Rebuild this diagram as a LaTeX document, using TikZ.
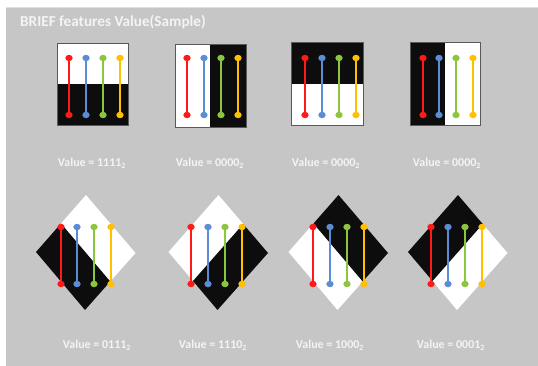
\documentclass[tikz,border=0pt]{standalone}
\usepackage{fontspec}
\setmainfont{Carlito}
\definecolor{panel}{HTML}{C6C6C6}
\definecolor{blk}{HTML}{0D0D0D}
\definecolor{cred}{HTML}{FF1A1A}
\definecolor{cblue}{HTML}{5B8DD6}
\definecolor{cgreen}{HTML}{8CC63F}
\definecolor{cyellow}{HTML}{FFC000}
\definecolor{txt}{HTML}{F4F4F4}
\tikzset{
  lbl/.style={text=txt, font=\bfseries\fontsize{12}{14}\selectfont, inner sep=0pt},
  ttl/.style={text=txt, font=\bfseries\fontsize{15.2}{18}\selectfont, inner sep=0pt, anchor=west},
  pairline/.style={line width=2.1pt},
  patchedge/.style={draw=gray!70!black, line width=0.3pt}
}
% pairs: #1 = x of first line, #2 = y top, #3 = y bottom
\newcommand{\mypairs}[3]{%
  \foreach \c [count=\i from 0] in {cred,cblue,cgreen,cyellow}{%
    \pgfmathsetmacro{\xx}{round(#1+\i*16.9)}
    \draw[pairline, \c] (\xx,#2) -- (\xx,#3);
    \fill[\c] (\xx,#2) ellipse [x radius=3.7, y radius=3.2];
    \fill[\c] (\xx,#3) ellipse [x radius=3.7, y radius=3.2];
  }%
}
\begin{document}
\begin{tikzpicture}[x=1pt,y=-1pt]
\useasboundingbox (0,0) rectangle (538,366);
\fill[white] (0,0) rectangle (538,366);
\fill[panel] (6,8) rectangle (538,366);
\draw[gray!25, line width=0.6pt] (6,7.5) -- (538,7.5);
\node[ttl] (title) at (20,22) {BRIEF features Value(Sample)};

% ---------- top row ----------
% square 1: white top, black bottom
\fill[white] (57,43) rectangle (128,84);
\fill[blk] (57,84) rectangle (128,125);
\draw[patchedge] (57,43) rectangle (128,125);
\mypairs{69}{58}{115}
% square 2: white left, black right
\fill[white] (175,44) rectangle (210,127);
\fill[blk] (210,44) rectangle (246,127);
\draw[patchedge] (175,44) rectangle (246,127);
\mypairs{187}{58}{115}
% square 3: black top, white bottom
\fill[blk] (291,42) rectangle (363,84);
\fill[white] (291,84) rectangle (363,125);
\draw[patchedge] (291,42) rectangle (363,125);
\mypairs{305}{58}{115}
% square 4: black left, white right
\fill[blk] (410,42) rectangle (445,125);
\fill[white] (445,42) rectangle (480,125);
\draw[patchedge] (410,42) rectangle (480,125);
\mypairs{422.5}{58}{115}

\node[lbl] (v1) at (92,163) {Value = 1111\textsubscript{2}};
\node[lbl] (v2) at (210,163) {Value = 0000\textsubscript{2}};
\node[lbl] (v3) at (326,163) {Value = 0000\textsubscript{2}};
\node[lbl] (v4) at (447,163) {Value = 0000\textsubscript{2}};

% ---------- bottom row ----------
% diamond 1 (cx=86): black lower-left
\fill[white] (86,195) -- (135.5,253) -- (110.25,281.5) -- (61,223.5) -- cycle;
\fill[blk] (61,223.5) -- (110.25,281.5) -- (85,310) -- (36,252) -- cycle;
\mypairs{60.5}{227}{284}
% diamond 2 (cx=218.5): black lower-right
\fill[white] (218.5,195) -- (243.25,224) -- (193,281) -- (168.5,252) -- cycle;
\fill[blk] (243.25,224) -- (268,253) -- (217.5,310) -- (193,281) -- cycle;
\mypairs{191}{227}{284}
% diamond 3 (cx=338.5): black upper-right
\fill[white] (313.5,223.5) -- (362.75,281.5) -- (337.5,310) -- (288.5,252) -- cycle;
\fill[blk] (338.5,195) -- (388,253) -- (362.75,281.5) -- (313.5,223.5) -- cycle;
\mypairs{313}{227}{284}
% diamond 4 (cx=458): black upper-left
\fill[white] (482.75,224) -- (507.5,253) -- (457,310) -- (432.5,281) -- cycle;
\fill[blk] (458,195) -- (482.75,224) -- (432.5,281) -- (408,252) -- cycle;
\mypairs{431}{227}{284}

\node[lbl] (w1) at (97,345) {Value = 0111\textsubscript{2}};
\node[lbl] (w2) at (213,345) {Value = 1110\textsubscript{2}};
\node[lbl] (w3) at (330,345) {Value = 1000\textsubscript{2}};
\node[lbl] (w4) at (451,345) {Value = 0001\textsubscript{2}};
\end{tikzpicture}
\end{document}
